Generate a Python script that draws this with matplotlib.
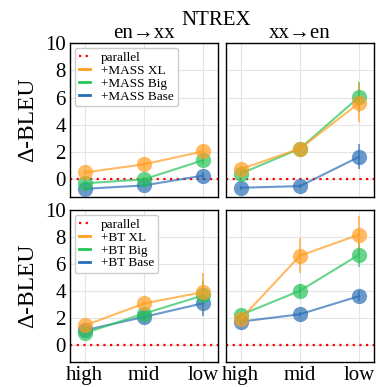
import matplotlib
matplotlib.use('Agg')
import matplotlib.pyplot as plt
from matplotlib.lines import Line2D

plt.rcParams['font.family'] = ['Liberation Serif', 'DejaVu Serif']

levels = ['high', 'mid', 'low']
x = [0, 1, 2]

# top row: MASS
mass_enxx = {
    'XL':   ([0.5, 1.1, 2.05], [0.2, 0.2, 0.45]),
    'Big':  ([-0.3, 0.0, 1.4], [0.15, 0.2, 0.35]),
    'Base': ([-0.7, -0.45, 0.27], [0.15, 0.15, 0.3]),
}
mass_xxen = {
    'XL':   ([0.75, 2.25, 5.6], [0.2, 0.2, 1.4]),
    'Big':  ([0.42, 2.25, 6.05], [0.2, 0.2, 1.1]),
    'Base': ([-0.62, -0.5, 1.65], [0.15, 0.15, 0.93]),
}
# bottom row: BT
bt_enxx = {
    'XL':   ([1.42, 3.05, 3.9], [0.2, 0.2, 1.4]),
    'Big':  ([0.85, 2.3, 3.65], [0.15, 0.2, 1.1]),
    'Base': ([1.06, 2.05, 3.07], [0.15, 0.2, 0.95]),
}
bt_xxen = {
    'XL':   ([1.9, 6.6, 8.17], [0.2, 1.3, 1.4]),
    'Big':  ([2.2, 4.0, 6.68], [0.2, 0.5, 0.9]),
    'Base': ([1.7, 2.25, 3.6], [0.15, 0.2, 0.35]),
}

colors = {'XL': '#ff9d1f', 'Big': '#27c35a', 'Base': '#2a6fb5'}
order = ['Base', 'Big', 'XL']

fig = plt.figure(figsize=(3.76, 3.87), dpi=100)
W, H = 376, 387
def pos(x0, x1, y0, y1):
    return [x0 / W, 1 - y1 / H, (x1 - x0) / W, (y1 - y0) / H]

axes = [
    [fig.add_axes(pos(70, 218, 43, 197)), fig.add_axes(pos(226, 374, 43, 197))],
    [fig.add_axes(pos(70, 218, 210, 362)), fig.add_axes(pos(226, 374, 210, 362))],
]
data = [[mass_enxx, mass_xxen], [bt_enxx, bt_xxen]]
prefix = ['+MASS', '+BT']

for r in range(2):
    for c in range(2):
        ax = axes[r][c]
        d = data[r][c]
        ax.grid(True, color='#e4e4e4', linewidth=0.8)
        ax.set_axisbelow(True)
        ax.axhline(0, color='red', linestyle=(0, (1, 2)), linewidth=1.6, zorder=1)
        for k in order:
            y, e = d[k]
            ax.errorbar(x, y, yerr=e, color=colors[k], marker='o', markersize=11,
                        alpha=0.7, linewidth=1.5, capsize=4, capthick=1.3,
                        elinewidth=1.3, markeredgewidth=0, zorder=3)
        ax.set_xlim(-0.25, 2.25)
        ax.set_ylim(-1.3, 10)
        ax.set_xticks(x)
        ax.set_yticks([0, 2, 4, 6, 8, 10])
        ax.tick_params(length=0, labelsize=15, pad=3)
        for s in ax.spines.values():
            s.set_linewidth(1.0)
        if r == 1:
            ax.set_xticklabels(levels)
        else:
            ax.set_xticklabels([])
        if c == 1:
            ax.set_yticklabels([])
        else:
            ax.set_ylabel('Δ-BLEU', fontsize=17, labelpad=5)
        if c == 0:
            handles = [Line2D([], [], color='red', linestyle=(0, (1, 2)), linewidth=1.6, label='parallel')]
            for k in ['XL', 'Big', 'Base']:
                handles.append(Line2D([], [], color=colors[k], linewidth=2,
                                      label=prefix[r] + ' ' + k))
            ax.legend(handles=handles, loc='upper left', fontsize=9.5,
                      handlelength=0.9, labelspacing=0.05, borderpad=0.3,
                      handletextpad=0.8, borderaxespad=0.35, framealpha=1,
                      edgecolor='#cccccc')

axes[0][0].set_title('en→xx', fontsize=15, pad=3)
axes[0][1].set_title('xx→en', fontsize=15, pad=3)
fig.text(0.575, 0.948, 'NTREX', fontsize=15, ha='center', va='center')

fig.savefig('out.png', dpi=100)
